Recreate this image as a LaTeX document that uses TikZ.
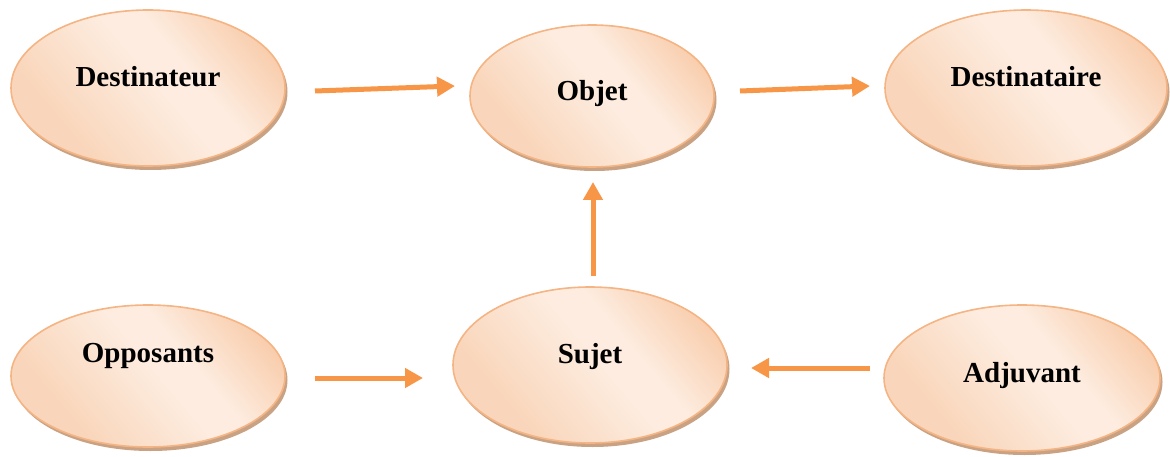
\documentclass[tikz,border=0pt]{standalone}
\usepackage{fontspec}
\setmainfont{Liberation Serif}
\usetikzlibrary{shapes.geometric,shadows,arrows.meta}
\definecolor{peachdark}{HTML}{F7C39C}
\definecolor{peachmid}{HTML}{F9D6BB}
\definecolor{peachlight}{HTML}{FDECDF}
\definecolor{peachline}{HTML}{F4B483}
\definecolor{peachshadow}{HTML}{C9A283}
\definecolor{arroworange}{HTML}{F79646}
\pgfdeclarehorizontalshading{peachshade}{100bp}{%
  color(0bp)=(peachmid); color(30bp)=(peachmid); color(52bp)=(peachlight);
  color(60bp)=(peachlight); color(82bp)=(peachdark); color(100bp)=(peachdark)}
\tikzset{
  actant/.style={ellipse, draw=peachline, line width=1.6pt, inner sep=0pt,
    shading=peachshade, shading angle=40,
    drop shadow={shadow xshift=2.5pt, shadow yshift=-4pt, fill=peachshadow, opacity=1}},
  lbl/.style={font=\fontsize{29}{34}\selectfont\bfseries, text=black, inner sep=0pt},
  flow/.style={draw=arroworange, line width=5pt,
    -{Triangle[length=18pt, width=19pt]}}
}
\begin{document}
\begin{tikzpicture}[x=1pt, y=-1pt]
\useasboundingbox (0,0) rectangle (1170,457);
% the six actants
\node[actant, minimum width=274pt, minimum height=156pt,
  label={[lbl, yshift=11pt]center:Destinateur}] (destinateur) at (148,88) {};
\node[actant, minimum width=244pt, minimum height=142pt,
  label={[lbl, yshift=2pt]center:Objet}] (objet) at (592,96) {};
\node[actant, minimum width=282pt, minimum height=156pt,
  label={[lbl, yshift=11pt]center:Destinataire}] (destinataire) at (1026,88) {};
\node[actant, minimum width=274pt, minimum height=142pt,
  label={[lbl, yshift=20pt]center:Opposants}] (opposants) at (148,376) {};
\node[actant, minimum width=274pt, minimum height=156pt,
  label={[lbl, yshift=8pt]center:Sujet}] (sujet) at (590,365) {};
\node[actant, minimum width=276pt, minimum height=146pt,
  label={[lbl, yshift=2pt]center:Adjuvant}] (adjuvant) at (1022,378) {};
% free-standing arrow ends
\coordinate (d1) at (315,91);  \coordinate (d2) at (455,86);
\coordinate (o1) at (740,91);  \coordinate (o2) at (870,86);
\coordinate (s1) at (593,276); \coordinate (s2) at (593,182);
\coordinate (p1) at (315,378); \coordinate (p2) at (423,378);
\coordinate (a1) at (870,368); \coordinate (a2) at (751,368);
% connectors
\draw[flow] (d1) -- (d2);
\draw[flow] (o1) -- (o2);
\draw[flow] (s1) -- (s2);
\draw[flow] (p1) -- (p2);
\draw[flow] (a1) -- (a2);
\end{tikzpicture}
\end{document}
